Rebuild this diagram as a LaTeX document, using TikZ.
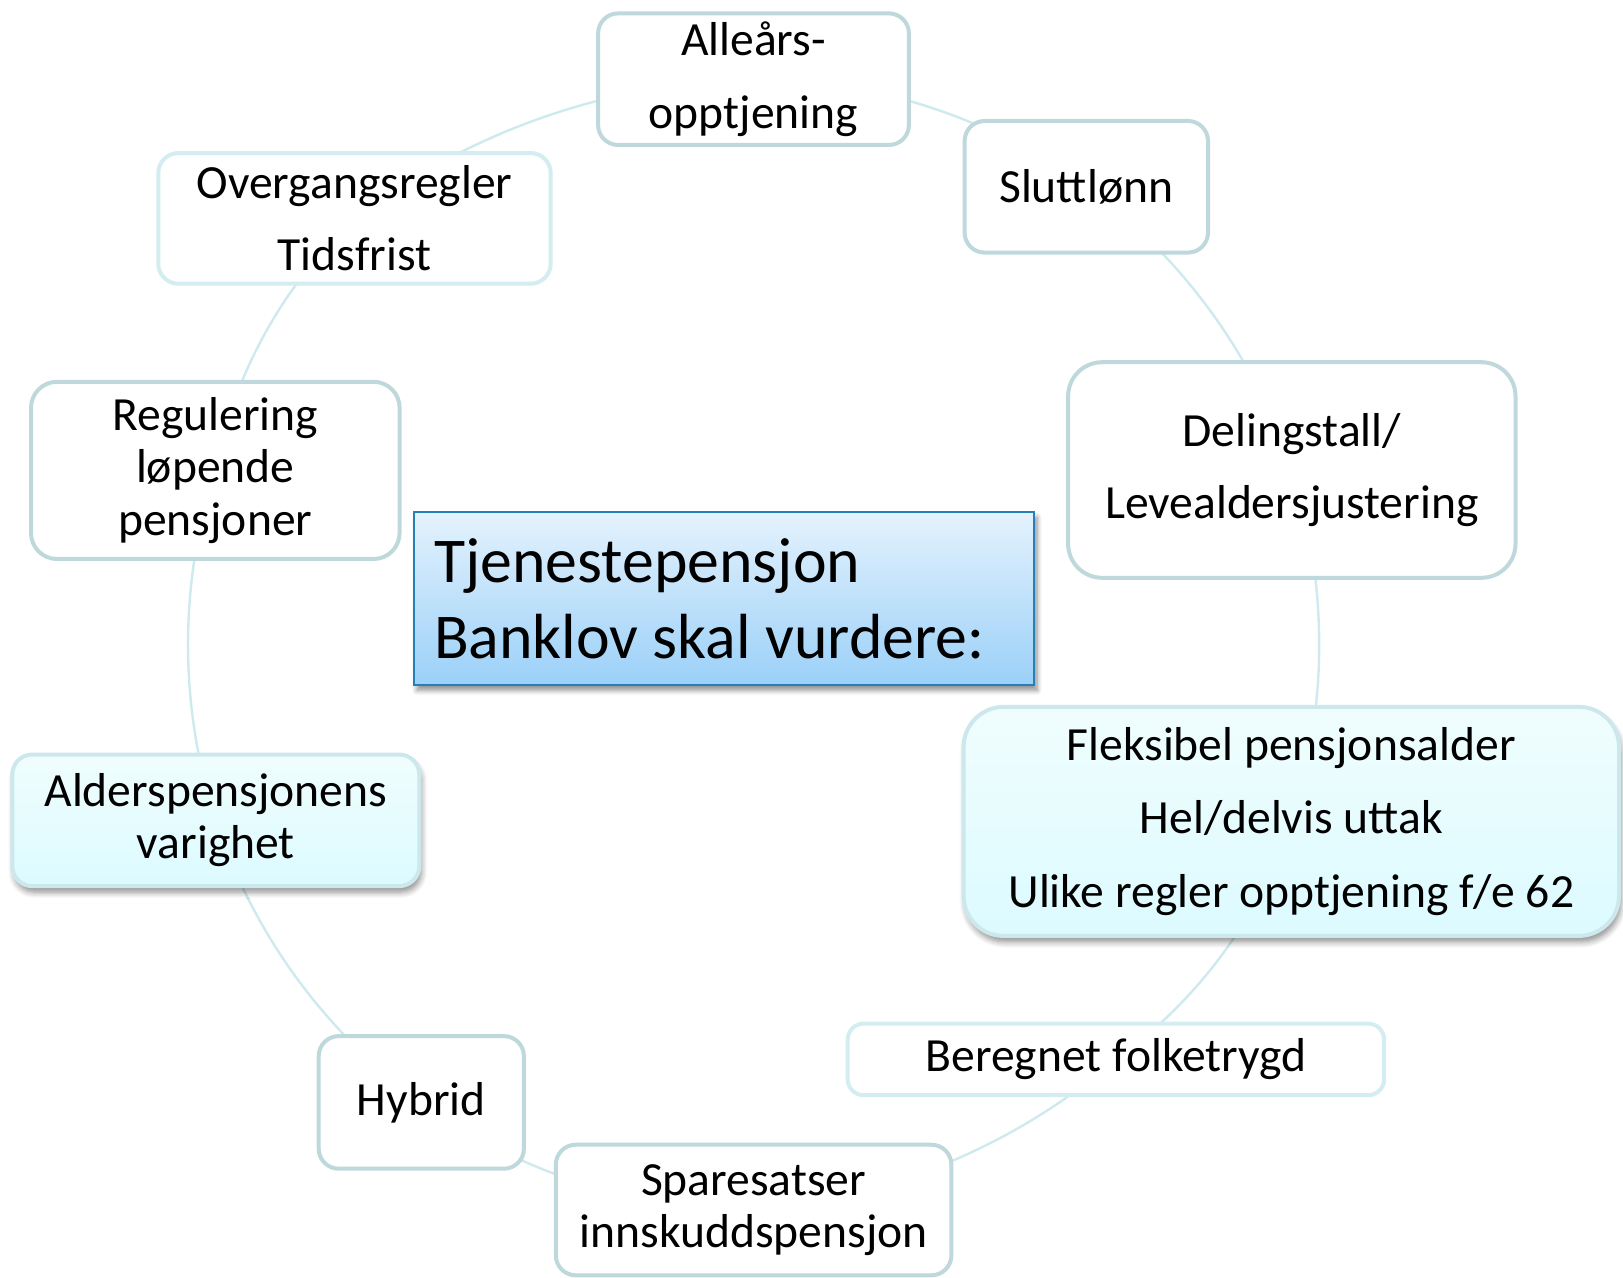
\documentclass[tikz,border=0pt]{standalone}
\usepackage{fontspec}
\setmainfont{Carlito}
\usetikzlibrary{shadows.blur,backgrounds}
\definecolor{bordA}{RGB}{190,216,220}
\definecolor{bordB}{RGB}{211,237,240}
\definecolor{bordC}{RGB}{205,232,236}
\definecolor{arcc}{RGB}{206,234,238}
\definecolor{fillT}{RGB}{240,253,254}
\definecolor{fillB}{RGB}{220,251,255}
\definecolor{cenT}{RGB}{228,242,253}
\definecolor{cenB}{RGB}{155,208,248}
\definecolor{cenD}{RGB}{36,128,182}
\tikzset{
  box/.style={draw=bordA, line width=2pt, fill=white, rounded corners=10pt,
    align=center, inner sep=0pt, font=\fontsize{23.8}{26.2}\selectfont},
  loose/.style={font=\fontsize{23.8}{36.2}\selectfont},
  lightbox/.style={box, draw=bordB},
  shadebox/.style={box, draw=bordC, top color=fillT, bottom color=fillB,
    blur shadow={shadow xshift=1pt, shadow yshift=-3pt, shadow blur steps=6,
      shadow blur radius=3pt, shadow opacity=45}},
  centrebox/.style={draw=cenD, line width=1pt, top color=cenT, bottom color=cenB,
    inner xsep=10pt, inner ysep=0pt, text width=290pt, align=flush left,
    minimum height=86.5pt, font=\fontsize{31.9}{38.3}\selectfont,
    blur shadow={shadow xshift=1.5pt, shadow yshift=-2.5pt, shadow blur steps=6,
      shadow blur radius=2.5pt, shadow opacity=45}},
  conn/.style={draw=arcc, line width=1.2pt, bend left=18, looseness=0.87}
}
\begin{document}
\begin{tikzpicture}[x=0.5pt,y=0.5pt]
\useasboundingbox (0,0) rectangle (1623,-1278);
\node[box, loose, minimum width=155.4pt, minimum height=65.8pt] (n1) at (753.5,-79.2) {Alleårs-\\opptjening};
\node[box, minimum width=121.7pt, minimum height=65.8pt] (n2) at (1086.3,-186.8) {Sluttlønn};
\node[box, loose, rounded corners=17pt, minimum width=223.7pt, minimum height=107.8pt] (n3) at (1291.8,-470) {Delingstall/\\Levealdersjustering};
\node[shadebox, rounded corners=20pt, font=\fontsize{23.8}{36.7}\selectfont, minimum width=327.7pt, minimum height=114.5pt] (n4) at (1291.3,-821.4) {Fleksibel pensjonsalder\\Hel/delvis uttak\\Ulike regler opptjening f/e 62};
\node[lightbox, rounded corners=8pt, minimum width=268.2pt, minimum height=35.8pt] (n5) at (1115.9,-1059.4) {Beregnet folketrygd};
\node[box, minimum width=197.8pt, minimum height=65.3pt] (n6) at (753.6,-1210) {Sparesatser\\innskuddspensjon};
\node[box, minimum width=102.6pt, minimum height=66.3pt] (n7) at (421.3,-1102.4) {Hybrid};
\node[shadebox, minimum width=203.5pt, minimum height=65.8pt] (n8) at (215.8,-820.3) {Alderspensjonens\\varighet};
\node[box, rounded corners=13pt, minimum width=184.3pt, minimum height=88.6pt] (n9) at (215.3,-470.4) {Regulering\\løpende\\pensjoner};
\node[lightbox, loose, minimum width=196.2pt, minimum height=65.3pt] (n10) at (354.5,-218.4) {Overgangsregler\\Tidsfrist};
\node[centrebox] (c) at (724,-598.8) {Tjenestepensjon\\Banklov skal vurdere:};
\begin{scope}[on background layer]
\draw[conn] (n1.center) to (n2.center);
\draw[conn] (n2.center) to (n3.center);
\draw[conn] (n3.center) to (n4.center);
\draw[conn] (n4.center) to (n5.center);
\draw[conn] (n5.center) to (n6.center);
\draw[conn] (n6.center) to (n7.center);
\draw[conn] (n7.center) to (n8.center);
\draw[conn] (n8.center) to (n9.center);
\draw[conn] (n9.center) to (n10.center);
\draw[conn] (n10.center) to (n1.center);
\end{scope}
\end{tikzpicture}
\end{document}
